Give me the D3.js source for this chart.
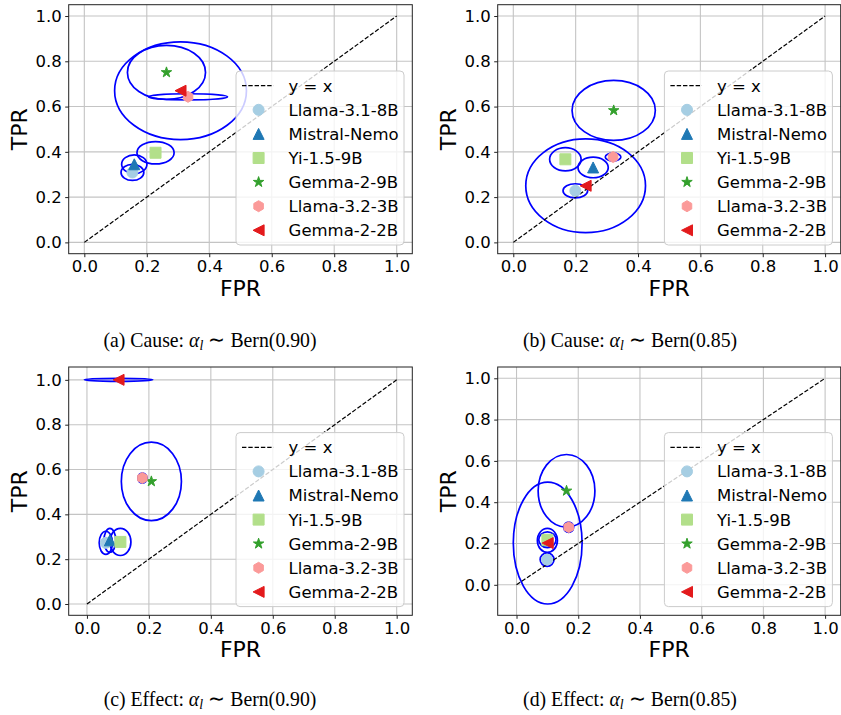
<!DOCTYPE html>
<html>
<head>
<meta charset="utf-8">
<script src="https://cdn.jsdelivr.net/npm/d3@7"></script>
<style>
    body { margin: 0; background: #fff; }
    text { font-family: "DejaVu Sans", sans-serif; }
</style>
</head>
<body>
<div id="chart"></div>
<script>
// models shown in every panel
const models = ["Llama-3.1-8B", "Mistral-Nemo", "Yi-1.5-9B", "Gemma-2-9B", "Llama-3.2-3B", "Gemma-2-2B"];

// (a) Cause, Bern(0.90)
const fprA = [0.154, 0.160, 0.228, 0.263, 0.332, 0.308];
const tprA = [0.309, 0.345, 0.396, 0.751, 0.643, 0.670];
const ellWA = [0.073, 0.081, 0.119, 0.250, 0.253, 0.422];
const ellHA = [0.071, 0.083, 0.099, 0.239, 0.027, 0.432];

// (b) Cause, Bern(0.85)
const fprB = [0.199, 0.256, 0.167, 0.322, 0.320, 0.232];
const tprB = [0.228, 0.331, 0.367, 0.583, 0.377, 0.250];
const ellWB = [0.079, 0.097, 0.101, 0.267, 0.050, 0.384];
const ellHB = [0.062, 0.091, 0.103, 0.265, 0.035, 0.414];

// (c) Effect, Bern(0.90)
const fprC = [0.061, 0.074, 0.108, 0.208, 0.179, 0.102];
const tprC = [0.273, 0.284, 0.277, 0.547, 0.562, 1.000];
const ellWC = [0.043, 0.038, 0.068, 0.194, 0.030, 0.221];
const ellHC = [0.103, 0.106, 0.121, 0.350, 0.045, 0.014];

// (d) Effect, Bern(0.85)
const fprD = [0.099, 0.100, 0.100, 0.162, 0.169, 0.101];
const tprD = [0.122, 0.215, 0.218, 0.455, 0.279, 0.202];
const ellWD = [0.045, 0.065, 0.056, 0.184, 0.032, 0.223];
const ellHD = [0.065, 0.116, 0.076, 0.352, 0.050, 0.590];

const captionTags = ["(a) Cause: ", "(b) Cause: ", "(c) Effect: ", "(d) Effect: "];
const captionP = ["0.90", "0.85", "0.90", "0.85"];
const tickValues = [0, 0.2, 0.4, 0.6, 0.8, 1.0];

// styles
const colors = ["#a6cee3", "#1f78b4", "#b2df8a", "#33a02c", "#fb9a99", "#e31a1c"];
const shapes = ["circle", "triangle", "square", "star", "hexagon", "left"];

var svg = d3.select("#chart").append("svg")
    .attr("width", 841)
    .attr("height", 715);

// axes boxes in pixels: left, right, top, bottom
var panels = [
    { fpr: fprA, tpr: tprA, w: ellWA, h: ellHA, box: [68.7, 412.3, 4.7, 253.7], capX: 210, capY: 347 },
    { fpr: fprB, tpr: tprB, w: ellWB, h: ellHB, box: [497.7, 840.7, 4.7, 253.7], capX: 630, capY: 347 },
    { fpr: fprC, tpr: tprC, w: ellWC, h: ellHC, box: [68.7, 412.3, 367, 615.3], capX: 210, capY: 706 },
    { fpr: fprD, tpr: tprD, w: ellWD, h: ellHD, box: [497.7, 840.7, 367, 615.3], capX: 630, capY: 706 }
];

function markerPath(shape, s) {
    var r = s / 2, pts = [], k;
    switch (shape) {
        case "circle":
            return d3.arc()({ innerRadius: 0, outerRadius: r, startAngle: 0, endAngle: 2 * Math.PI });
        case "square":
            pts = [[-r, -r], [r, -r], [r, r], [-r, r]];
            break;
        case "triangle":
            pts = [[0, -r], [r, r], [-r, r]];
            break;
        case "left":
            pts = [[-r, 0], [r, -r], [r, r]];
            break;
        case "star":
            for (k = 0; k < 10; k++) {
                var rr = k % 2 ? r * 0.381966 : r;
                var a = -Math.PI / 2 + k * Math.PI / 5;
                pts.push([rr * Math.cos(a), rr * Math.sin(a)]);
            }
            break;
        case "hexagon":
            for (k = 0; k < 6; k++) {
                var b = -Math.PI / 2 + k * Math.PI / 3;
                pts.push([r * Math.cos(b), r * Math.sin(b)]);
            }
            break;
    }
    return "M" + pts.map(function (p) { return p[0].toFixed(2) + "," + p[1].toFixed(2); }).join("L") + "Z";
}

// matplotlib style autoscale: data limits + 5% margin
function autoDomain(vals, half) {
    var lo = 0, hi = 1;
    vals.forEach(function (v, i) {
        lo = Math.min(lo, v - half[i]);
        hi = Math.max(hi, v + half[i]);
    });
    var m = (hi - lo) * 0.05;
    return [lo - m, hi + m];
}

panels.forEach(function (p, pi) {
    var L = p.box[0], R = p.box[1], T = p.box[2], B = p.box[3];

    var x = d3.scaleLinear()
        .domain(autoDomain(p.fpr, p.w.map(function (d) { return d / 2; })))
        .range([L, R]);
    var y = d3.scaleLinear()
        .domain(autoDomain(p.tpr, p.h.map(function (d) { return d / 2; })))
        .range([B, T]);

    var g = svg.append("g");

    // grid
    g.append("g").selectAll("line.gx")
        .data(tickValues).enter().append("line")
        .attr("x1", function (d) { return x(d); }).attr("x2", function (d) { return x(d); })
        .attr("y1", T).attr("y2", B)
        .attr("stroke", "#c4c4c4").attr("stroke-width", 1.1);
    g.append("g").selectAll("line.gy")
        .data(tickValues).enter().append("line")
        .attr("y1", function (d) { return y(d); }).attr("y2", function (d) { return y(d); })
        .attr("x1", L).attr("x2", R)
        .attr("stroke", "#c4c4c4").attr("stroke-width", 1.1);

    var clip = "clip" + pi;
    svg.append("clipPath").attr("id", clip)
        .append("rect").attr("x", L).attr("y", T).attr("width", R - L).attr("height", B - T);

    var plot = g.append("g").attr("clip-path", "url(#" + clip + ")");

    // uncertainty ellipses
    plot.selectAll("ellipse")
        .data(models).enter().append("ellipse")
        .attr("cx", function (d, i) { return x(p.fpr[i]); })
        .attr("cy", function (d, i) { return y(p.tpr[i]); })
        .attr("rx", function (d, i) { return Math.abs(x(p.w[i] / 2) - x(0)); })
        .attr("ry", function (d, i) { return Math.abs(y(p.h[i] / 2) - y(0)); })
        .attr("fill", "none")
        .attr("stroke", "#0000ff")
        .attr("stroke-width", 1.7);

    // y = x
    plot.append("line")
        .attr("x1", x(0)).attr("y1", y(0))
        .attr("x2", x(1)).attr("y2", y(1))
        .attr("stroke", "#000").attr("stroke-width", 1.2)
        .attr("stroke-dasharray", "4.4,1.9");

    // markers
    plot.selectAll("path.pt")
        .data(models).enter().append("path")
        .attr("class", "pt")
        .attr("transform", function (d, i) { return "translate(" + x(p.fpr[i]) + "," + y(p.tpr[i]) + ")"; })
        .attr("d", function (d, i) { return markerPath(shapes[i], 11); })
        .attr("fill", function (d, i) { return colors[i]; })
        .attr("stroke", function (d, i) { return colors[i]; })
        .attr("stroke-width", 1);

    // frame
    g.append("rect")
        .attr("x", L).attr("y", T).attr("width", R - L).attr("height", B - T)
        .attr("fill", "none").attr("stroke", "#222").attr("stroke-width", 1);

    // axes
    var xa = g.append("g")
        .attr("transform", "translate(0," + B + ")")
        .call(d3.axisBottom(x).tickValues(tickValues).tickFormat(d3.format(".1f")).tickSize(3.5).tickPadding(3.5));
    var ya = g.append("g")
        .attr("transform", "translate(" + L + ",0)")
        .call(d3.axisLeft(y).tickValues(tickValues).tickFormat(d3.format(".1f")).tickSize(3.5).tickPadding(3.5));
    [xa, ya].forEach(function (a) {
        a.select(".domain").remove();
        a.selectAll("line").attr("stroke", "#222");
        a.selectAll("text")
            .attr("fill", "#000")
            .style("font-family", '"DejaVu Sans", sans-serif')
            .style("font-size", "16.5px");
    });

    g.append("text")
        .attr("x", (L + R) / 2).attr("y", B + 42)
        .attr("text-anchor", "middle")
        .style("font-size", "22px")
        .text("FPR");
    g.append("text")
        .attr("transform", "translate(" + (L - 42) + "," + ((T + B) / 2) + ") rotate(-90)")
        .attr("text-anchor", "middle")
        .style("font-size", "22px")
        .text("TPR");

    // legend
    var lw = 168, lh = 174;
    var lx = R - 8.3 - lw, ly = B - 8.7 - lh;
    var leg = g.append("g").attr("transform", "translate(" + lx + "," + ly + ")");
    leg.append("rect")
        .attr("width", lw).attr("height", lh).attr("rx", 4)
        .attr("fill", "#fff").attr("fill-opacity", 0.8)
        .attr("stroke", "#cccccc").attr("stroke-width", 1);
    var rowY = function (k) { return 14.7 + 24.1 * k; };
    leg.append("line")
        .attr("x1", 6).attr("x2", 37.6)
        .attr("y1", rowY(0)).attr("y2", rowY(0))
        .attr("stroke", "#000").attr("stroke-width", 1.2)
        .attr("stroke-dasharray", "4.4,1.9");
    leg.append("text")
        .attr("x", 52.6).attr("y", rowY(0)).attr("dy", "0.36em")
        .style("font-size", "16.5px")
        .text("y = x");
    models.forEach(function (m, i) {
        leg.append("path")
            .attr("transform", "translate(22.6," + rowY(i + 1) + ")")
            .attr("d", markerPath(shapes[i], 11))
            .attr("fill", colors[i]).attr("stroke", colors[i]).attr("stroke-width", 1);
        leg.append("text")
            .attr("x", 52.6).attr("y", rowY(i + 1)).attr("dy", "0.36em")
            .style("font-size", "16.5px")
            .text(m);
    });

    // caption (slightly condensed serif, like the paper's rendering)
    var cap = svg.append("text")
        .attr("transform", "translate(" + p.capX + "," + p.capY + ") scale(0.92,1)")
        .attr("text-anchor", "middle")
        .style("font-family", '"Liberation Serif", "Times New Roman", serif')
        .style("font-size", "21.5px");
    cap.append("tspan").text(captionTags[pi]);
    cap.append("tspan").style("font-style", "italic").text("α");
    cap.append("tspan").style("font-style", "italic").style("font-size", "15px").attr("dy", 3).text("l");
    cap.append("tspan").attr("dy", -3).text(" ∼ Bern(" + captionP[pi] + ")");
});
</script>
</body>
</html>
